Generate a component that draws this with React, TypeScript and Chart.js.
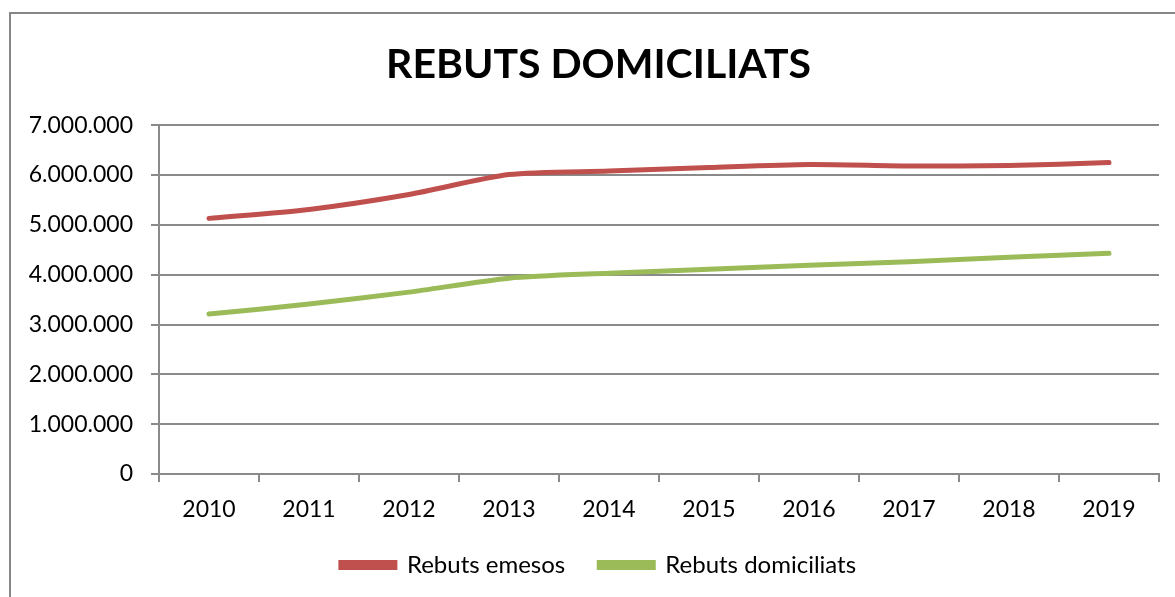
import React, { useEffect, useRef } from "react";
import { Chart, registerables } from "chart.js";

Chart.register(...registerables);

const categories = ["2010", "2011", "2012", "2013", "2014", "2015", "2016", "2017", "2018", "2019"];
const rebutsEmesos = [5130000, 5310000, 5610000, 6010000, 6080000, 6150000, 6210000, 6180000, 6190000, 6250000];
const rebutsDomiciliats = [3210000, 3410000, 3650000, 3930000, 4030000, 4110000, 4190000, 4260000, 4350000, 4430000];
const yMin = 0;
const yMax = 7000000;
const yStep = 1000000;
const titleText = "REBUTS DOMICILIATS";
const seriesNames = ["Rebuts emesos", "Rebuts domiciliats"];

const FONT = "Lato";
const GRID = "#8a8a8a";

function fmt(v: number): string {
  return String(Math.round(v)).replace(/\B(?=(\d{3})+(?!\d))/g, ".");
}

export default function App() {
  const ref = useRef<HTMLCanvasElement | null>(null);
  useEffect(() => {
    if (!ref.current) return;
    const chart = new Chart(ref.current, {
      type: "line",
      data: {
        labels: categories,
        datasets: [
          {
            label: seriesNames[0],
            data: rebutsEmesos,
            borderColor: "#C0504D",
            backgroundColor: "#C0504D",
            borderWidth: 5,
            pointRadius: 0,
            tension: 0.25,
            borderCapStyle: "round",
            yAxisID: "y",
          },
          {
            label: seriesNames[1],
            data: rebutsDomiciliats,
            borderColor: "#9BBB59",
            backgroundColor: "#9BBB59",
            borderWidth: 5,
            pointRadius: 0,
            tension: 0.25,
            borderCapStyle: "round",
            yAxisID: "y",
          },
        ],
      },
      options: {
        responsive: false,
        animation: false,
        layout: { padding: { left: 22, right: 0, top: 20, bottom: 10 } },
        plugins: {
          title: {
            display: true,
            text: titleText,
            color: "#000",
            font: { family: FONT, size: 41, weight: "bold" },
            padding: { top: 20, bottom: 36 },
          },
          legend: {
            position: "bottom",
            labels: {
              color: "#000",
              font: { family: FONT, size: 24 },
              boxWidth: 54,
              boxHeight: 5,
              padding: 34,
            },
          },
          tooltip: { enabled: false },
        },
        scales: {
          x: {
            offset: true,
            afterFit: (s: any) => {
              s.height = 45;
            },
            grid: {
              display: true,
              offset: true,
              drawOnChartArea: false,
              drawTicks: true,
              tickLength: 8,
              color: GRID,
              lineWidth: 2,
            },
            border: { display: true, color: GRID, width: 2 },
            ticks: { color: "#000", font: { family: FONT, size: 23 }, padding: 14 },
          },
          y: {
            min: yMin,
            max: yMax,
            afterFit: (s: any) => {
              s.width = 159 - 22;
            },
            grid: { color: GRID, lineWidth: 2, tickLength: 8 },
            border: { display: true, color: GRID, width: 2 },
            ticks: {
              stepSize: yStep,
              color: "#000",
              font: { family: FONT, size: 23 },
              padding: 18,
              callback: (v: any) => fmt(Number(v)),
            },
          },
          yRight: {
            type: "linear",
            position: "right",
            display: true,
            min: yMin,
            max: yMax,
            afterFit: (s: any) => {
              s.width = 16;
            },
            grid: { display: false, drawTicks: false },
            border: { display: false },
            ticks: { display: false },
          },
        },
      },
    });
    return () => chart.destroy();
  }, []);

  return (
    <div style={{ position: "fixed", left: 0, top: 0, width: 1175, height: 597, overflow: "hidden", background: "#fff" }}>
      <div
        style={{
          position: "absolute",
          left: 9,
          top: 12,
          width: 1200,
          height: 620,
          borderLeft: "2px solid #868686",
          borderTop: "2px solid #868686",
        }}
      />
      <canvas ref={ref} width={1175} height={597} style={{ position: "absolute", left: 0, top: 0 }} />
    </div>
  );
}
